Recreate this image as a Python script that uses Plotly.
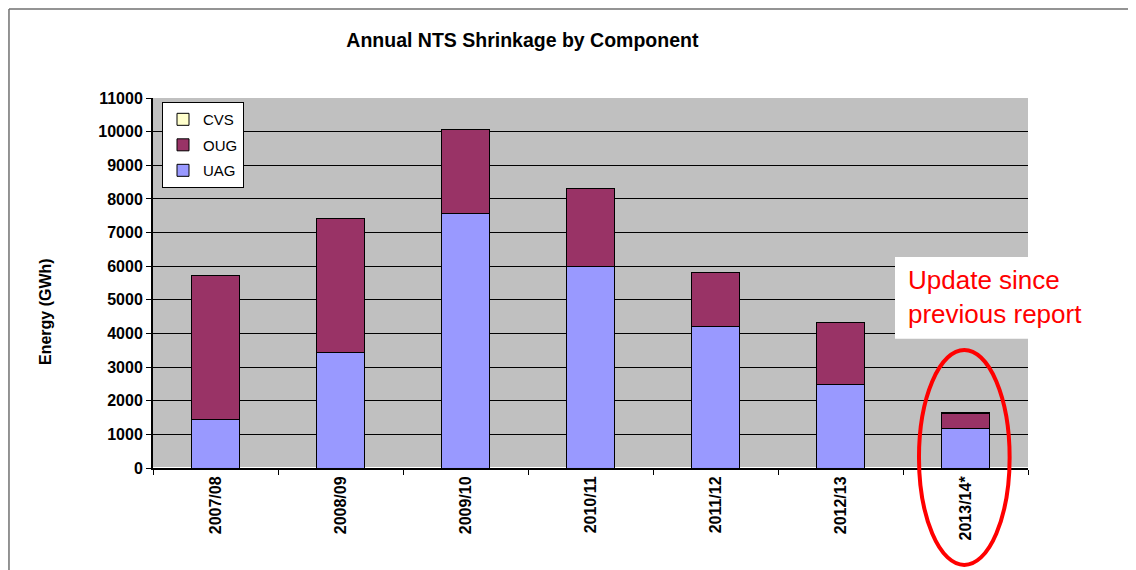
import plotly.graph_objects as go

years = ["2007/08", "2008/09", "2009/10", "2010/11", "2011/12", "2012/13", "2013/14*"]
uag = [1430, 3420, 7580, 6000, 4220, 2470, 1160]
oug = [4300, 4010, 2470, 2300, 1580, 1870, 450]
cvs = [0, 0, 0, 0, 0, 0, 30]

fnt = "Liberation Sans, Arial, sans-serif"
edge = dict(color="black", width=1)

fig = go.Figure()
fig.add_trace(go.Bar(x=years, y=uag, name="UAG", legendgroup="uag", legendrank=3,
                     marker=dict(color="#9999FF", line=edge)))
fig.add_trace(go.Bar(x=years, y=oug, name="OUG", legendgroup="oug", legendrank=2,
                     marker=dict(color="#993366", line=edge)))
fig.add_trace(go.Bar(x=years, y=cvs, name="CVS", legendgroup="cvs", legendrank=1,
                     marker=dict(color="#FFFFCC", line=edge)))

# page has an 8px body margin, so the figure is a bit smaller than the window
fig.update_layout(
    barmode="stack",
    bargap=0.61,
    width=1128, height=562,
    margin=dict(l=145, r=108, t=90, b=102),
    paper_bgcolor="white",
    plot_bgcolor="#C0C0C0",
    font=dict(family=fnt, size=14, color="black"),
    title=dict(text="<b>Annual NTS Shrinkage by Component</b>", x=0.456, xanchor="center",
               y=0.943, yanchor="middle", font=dict(size=19.5)),
    legend=dict(x=0.0103, y=0.989, xanchor="left", yanchor="top",
                bgcolor="white", bordercolor="black", borderwidth=1,
                font=dict(size=15), traceorder="grouped", tracegroupgap=3,
                itemwidth=30),
    showlegend=True,
)
fig.update_xaxes(showline=True, linecolor="black", linewidth=2, ticks="outside",
                 tickson="boundaries", ticklen=5, tickcolor="black",
                 tickangle=-90, tickfont=dict(size=16, family=fnt), showgrid=False,
                 tickprefix="<b>", ticksuffix="</b>")
fig.update_yaxes(range=[0, 11000], dtick=1000, showline=True, linecolor="black", linewidth=2,
                 ticks="outside", ticklen=5, tickcolor="black", tickformat="d",
                 showgrid=True, gridcolor="black", gridwidth=1,
                 tickfont=dict(size=16, family=fnt),
                 tickprefix="<b>", ticksuffix="</b>")

# y axis title sits a little below the plot centre in the original
fig.add_annotation(xref="paper", yref="paper", x=-0.1234, y=0.4216, xanchor="center",
                   yanchor="middle", textangle=-90, showarrow=False,
                   text="<b>Energy (GWh)</b>", font=dict(size=16, family=fnt))

# outer chart border (only left and top edges show)
border = dict(color="#707070", width=1.5)
fig.add_shape(type="line", xref="paper", yref="paper", x0=-0.1646, x1=-0.1646, y0=-0.5, y1=1.2405,
              line=border, layer="below")
fig.add_shape(type="line", xref="paper", yref="paper", x0=-0.1646, x1=1.12, y0=1.2405, y1=1.2405,
              line=border, layer="below")
# white note box
fig.add_shape(type="rect", xref="paper", yref="paper", x0=0.848, x1=1.12, y0=0.349, y1=0.570,
              line=dict(width=0), fillcolor="white", layer="above")
fig.add_annotation(xref="paper", yref="paper", x=0.860, y=0.462, xanchor="left", yanchor="middle",
                   text="Update since<br>previous report", showarrow=False, align="left",
                   font=dict(size=26, color="red", family=fnt))
# highlight ellipse
fig.add_shape(type="circle", xref="paper", yref="paper", x0=0.8754, x1=0.979, y0=-0.262, y1=0.319,
              line=dict(color="red", width=4))

fig.write_html("out.html")
